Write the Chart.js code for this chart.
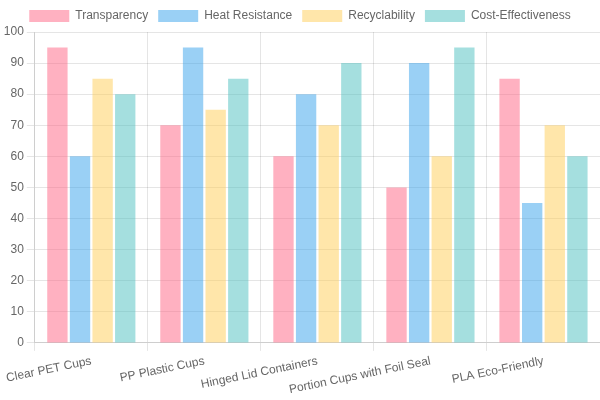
<!DOCTYPE html>
<html>
<head>
<meta charset="utf-8">
<script src="https://cdn.jsdelivr.net/npm/chart.js@4"></script>
<style>
  html, body { margin: 0; padding: 0; background: #fff; }
  #wrap { width: 600px; height: 400px; }
</style>
</head>
<body>
<div id="wrap"><canvas id="myChart"></canvas></div>
<script>
var categories = ['Clear PET Cups', 'PP Plastic Cups', 'Hinged Lid Containers', 'Portion Cups with Foil Seal', 'PLA Eco-Friendly'];
var transparency = [95, 70, 60, 50, 85];
var heatResistance = [60, 95, 80, 90, 45];
var recyclability = [85, 75, 70, 60, 70];
var costEffectiveness = [80, 85, 90, 95, 60];

Chart.defaults.font.family = '"Liberation Sans", Arial, sans-serif';
Chart.defaults.font.size = 12;
Chart.defaults.color = '#666';

var ctx = document.getElementById('myChart').getContext('2d');
var myChart = new Chart(ctx, {
  type: 'bar',
  data: {
    labels: categories,
    datasets: [
      { label: 'Transparency', data: transparency, backgroundColor: 'rgba(255, 99, 132, 0.5)', borderWidth: 0 },
      { label: 'Heat Resistance', data: heatResistance, backgroundColor: 'rgba(54, 162, 235, 0.5)', borderWidth: 0 },
      { label: 'Recyclability', data: recyclability, backgroundColor: 'rgba(255, 206, 86, 0.5)', borderWidth: 0 },
      { label: 'Cost-Effectiveness', data: costEffectiveness, backgroundColor: 'rgba(75, 192, 192, 0.5)', borderWidth: 0 }
    ]
  },
  options: {
    responsive: true,
    maintainAspectRatio: false,
    animation: false,
    plugins: {
      legend: { position: 'top' },
      tooltip: { enabled: false }
    },
    scales: {
      y: {
        beginAtZero: true,
        max: 100,
        ticks: { stepSize: 10 }
      }
    }
  }
});
</script>
</body>
</html>
